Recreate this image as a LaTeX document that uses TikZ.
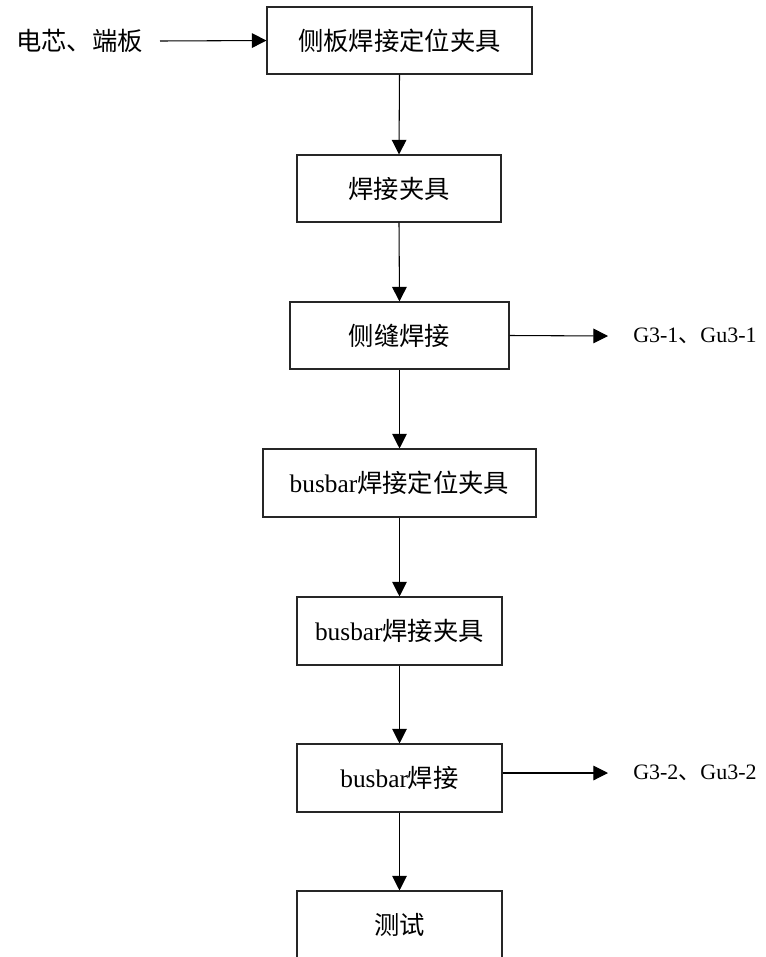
\documentclass[tikz,border=0pt]{standalone}
\usepackage{fontspec}
\setmainfont{Liberation Serif}
\newfontfamily\cjk{Noto Sans CJK SC}
\usetikzlibrary{arrows.meta,calc}
\tikzset{
  procbox/.style={draw=black!85, line width=0.8pt, minimum height=67*0.75pt, inner sep=0pt, font=\fontsize{19}{22}\selectfont, anchor=center},
  conn/.style={line width=0.8pt, -{Triangle[length=11pt,width=11pt]}},
  sidetext/.style={font=\fontsize{19}{22}\selectfont, inner ysep=0pt},
  outtext/.style={font=\fontsize{16.5}{20}\selectfont, inner ysep=0pt}
}
\begin{document}
\begin{tikzpicture}[x=0.75pt,y=-0.75pt]
\useasboundingbox (0,0) rectangle (765,957);
\node[procbox, minimum width=265*0.75pt] (b1) at (399.5,40.5) {\cjk 侧板焊接定位夹具};
\node[procbox, minimum width=204*0.75pt] (b2) at (399,188.5) {\cjk 焊接夹具};
\node[procbox, minimum width=219*0.75pt] (b3) at (399.5,335.5) {\cjk 侧缝焊接};
\node[procbox, minimum width=273*0.75pt, minimum height=68*0.75pt] (b4) at (399.5,483) {busbar\cjk 焊接定位夹具};
\node[procbox, minimum width=205*0.75pt, minimum height=68*0.75pt] (b5) at (399.5,631) {busbar\cjk 焊接夹具};
\node[procbox, minimum width=205*0.75pt, minimum height=68*0.75pt] (b6) at (399.5,778) {busbar\cjk 焊接};
\node[procbox, minimum width=205*0.75pt, minimum height=68*0.75pt] (b7) at (399.5,925) {\cjk 测试};
\node[sidetext, anchor=east, inner xsep=17*0.75pt] (in) at (160,41) {\cjk 电芯、端板};
\node[outtext, anchor=west, inner xsep=25*0.75pt] (o1) at (608,336) {G3-1{\cjk 、}Gu3-1};
\node[outtext, anchor=west, inner xsep=25*0.75pt] (o2) at (608,773) {G3-2{\cjk 、}Gu3-2};
\draw[conn] (in.east) -- (b1.west);
\draw[conn] (b1.south) -- (b2.north);
\draw[conn] (b2.south) -- (b3.north);
\draw[conn] (b3.south) -- (b4.north);
\draw[conn] (b4.south) -- (b5.north);
\draw[conn] (b5.south) -- (b6.north);
\draw[conn] (b6.south) -- (b7.north);
\draw[conn] (b3.east) -- (o1.west);
\draw[conn] (b6.east |- o2.west) -- (o2.west);
\end{tikzpicture}
\end{document}
